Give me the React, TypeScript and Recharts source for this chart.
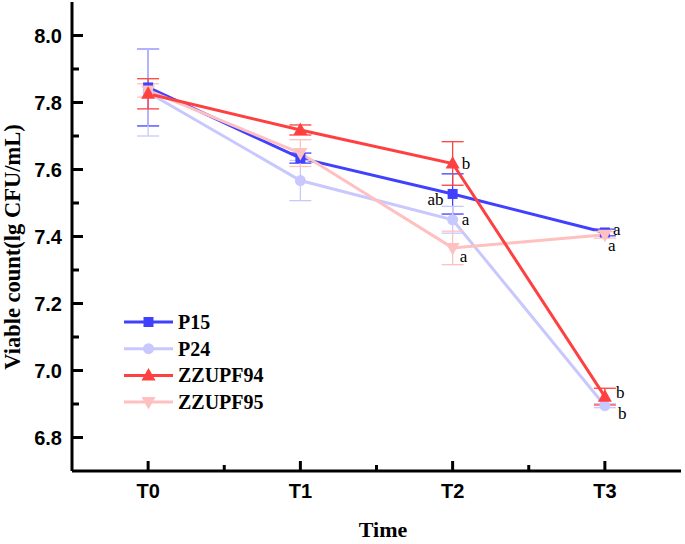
import React from 'react';
import { LineChart, Line, XAxis, YAxis, ErrorBar, Legend, LabelList } from 'recharts';

// ---- data ----
const times = ['T0', 'T1', 'T2', 'T3'];
const p15 = [7.845, 7.634, 7.527, 7.412];
const p15Err = [0.115, 0.015, 0.06, 0.01];
const p24 = [7.83, 7.567, 7.45, 6.895];
const p24Err = [0.13, 0.06, 0.04, 0.006];
const zz94 = [7.826, 7.718, 7.618, 6.922];
const zz94Err = [0.045, 0.015, 0.065, 0.025];
const zz95 = [7.836, 7.649, 7.366, 7.405];
const zz95Err = [0.02, 0.04, 0.05, 0.01];
const p15Letters = ['', '', 'ab', 'a'];
const p24Letters = ['', '', 'a', 'b'];
const zz94Letters = ['', '', 'b', 'b'];
const zz95Letters = ['', '', 'a', 'a'];
const yTicks = [6.8, 6.9, 7.0, 7.1, 7.2, 7.3, 7.4, 7.5, 7.6, 7.7, 7.8, 7.9, 8.0];
const xTicks = [0, 0.5, 1, 1.5, 2, 2.5, 3];

const table = times.map((t, i) => ({
  x: i,
  t,
  p15: p15[i], p15Err: p15Err[i], p15L: p15Letters[i],
  p24: p24[i], p24Err: p24Err[i], p24L: p24Letters[i],
  zz94: zz94[i], zz94Err: zz94Err[i], zz94L: zz94Letters[i],
  zz95: zz95[i], zz95Err: zz95Err[i], zz95L: zz95Letters[i],
}));

// ---- styles ----
const C_P15 = '#4040ff';
const C_P24 = '#c8c8ff';
const C_94 = '#ff4040';
const C_95 = '#ffc0c0';
const TICK = '#000';
const SANS = '"Liberation Sans", Arial, sans-serif';
const SERIF = '"Liberation Serif", "Times New Roman", serif';

const letterPos: Record<string, Array<[number, number, string]>> = {
  p15: [[0, 0, 'start'], [0, 0, 'start'], [-9, 6, 'end'], [8, -3, 'start']],
  p24: [[0, 0, 'start'], [0, 0, 'start'], [9, 0, 'start'], [13, 8, 'start']],
  zz94: [[0, 0, 'start'], [0, 0, 'start'], [9, 0, 'start'], [11, -4, 'start']],
  zz95: [[0, 0, 'start'], [0, 0, 'start'], [7, 9, 'start'], [3, 11, 'start']],
};

function Marker({ kind, cx, cy, color }: any) {
  if (cx == null || cy == null) return null;
  if (kind === 'square') return <rect x={cx - 5} y={cy - 5} width={10} height={10} fill={color} />;
  if (kind === 'circle') return <circle cx={cx} cy={cy} r={5.5} fill={color} />;
  if (kind === 'up')
    return <polygon points={`${cx},${cy - 7.5} ${cx - 7},${cy + 5} ${cx + 7},${cy + 5}`} fill={color} />;
  return <polygon points={`${cx},${cy + 7.5} ${cx - 7},${cy - 5} ${cx + 7},${cy - 5}`} fill={color} />;
}

const dotFor = (kind: string, color: string) => (props: any) => (
  <Marker key={`${kind}-${props.index}`} kind={kind} cx={props.cx} cy={props.cy} color={color} />
);

const letterFor = (key: string) => (props: any) => {
  const { x, y, value, index } = props;
  if (!value) return null;
  const [dx, dy, anchor] = letterPos[key][index];
  return (
    <text key={`${key}-l-${index}`} x={Number(x) + dx} y={Number(y) + dy} textAnchor={anchor as any}
      dominantBaseline="central" fontFamily={SERIF} fontSize={17} fill="#000">
      {value}
    </text>
  );
};

const renderXTick = (props: any) => {
  const x = Number(props.x);
  const y = Number(props.y);
  const v = props.payload.value;
  const major = Number.isInteger(v);
  const len = major ? 10 : 6;
  return (
    <g key={`xt-${v}`}>
      <path d={`M${x},${y} L${x},${y - len}`} stroke={TICK} strokeWidth={3} fill="none" />
      {major && (
        <text x={x} y={y + 27} textAnchor="middle" fontFamily={SANS} fontWeight="bold" fontSize={20} fill="#000">
          {times[v]}
        </text>
      )}
    </g>
  );
};

const renderTopTick = (props: any) => {
  const x = Number(props.x);
  const y = Number(props.y);
  const major = Number.isInteger(props.payload.value);
  return (
    <path key={`tt-${props.payload.value}`} d={`M${x},${y} L${x},${y + (major ? 6 : 4)}`} stroke={TICK} strokeWidth={1.5} fill="none" />
  );
};

const renderYTick = (props: any) => {
  const x = Number(props.x);
  const y = Number(props.y);
  const v = props.payload.value;
  const major = Math.round(v * 10) % 2 === 0;
  const len = major ? 11 : 7;
  return (
    <g key={`yt-${v}`}>
      <path d={`M${x},${y} L${x + len},${y}`} stroke={TICK} strokeWidth={3} fill="none" />
      {major && (
        <text x={x - 10} y={y} textAnchor="end" dominantBaseline="central" fontFamily={SANS} fontWeight="bold" fontSize={20} fill="#000">
          {v.toFixed(1)}
        </text>
      )}
    </g>
  );
};

const legendItems = [
  { name: 'P15', color: C_P15, kind: 'square' },
  { name: 'P24', color: C_P24, kind: 'circle' },
  { name: 'ZZUPF94', color: C_94, kind: 'up' },
  { name: 'ZZUPF95', color: C_95, kind: 'down' },
];

const LegendContent = () => (
  <svg width={220} height={110}>
    {legendItems.map((it, i) => {
      const cy = 14 + i * 26.7;
      return (
        <g key={it.name}>
          <line x1={6} y1={cy} x2={55} y2={cy} stroke={it.color} strokeWidth={3} />
          <Marker kind={it.kind} cx={30.5} cy={cy} color={it.color} />
          <text x={60} y={cy} dominantBaseline="central" fontFamily={SERIF} fontWeight="bold" fontSize={20} fill="#000">
            {it.name}
          </text>
        </g>
      );
    })}
  </svg>
);

export default function App() {
  return (
    <div style={{ position: 'absolute', left: 0, top: 0, background: '#fff' }}>
      <LineChart width={685} height={544} data={table} margin={{ top: 2, right: 4, left: 0, bottom: 0 }}>
        <XAxis xAxisId="b" dataKey="x" type="number" domain={[-0.5, 3.5]} ticks={xTicks} interval={0} height={73}
          tickSize={0} tickMargin={0} tickLine={false} tick={renderXTick} axisLine={{ stroke: '#000', strokeWidth: 3 }}
          label={{
            content: () => (
              <text x={383} y={537} textAnchor="middle" fontFamily={SERIF} fontWeight="bold" fontSize={22} fill="#000">
                Time
              </text>
            ),
          }}
        />
        <XAxis xAxisId="t" orientation="top" dataKey="x" type="number" domain={[-0.5, 3.5]} ticks={xTicks} interval={0}
          height={0} tickSize={0} tickMargin={0} tickLine={false} tick={renderTopTick} axisLine={{ stroke: '#000', strokeWidth: 3 }} />
        <YAxis yAxisId="l" type="number" domain={[6.7, 8.1]} ticks={yTicks} interval={0} width={72} tickSize={0} tickMargin={0}
          tickLine={false} tick={renderYTick} axisLine={{ stroke: '#000', strokeWidth: 3 }}
          label={{
            content: () => (
              <text x={12} y={247} transform="rotate(-90 12 247)" textAnchor="middle" dominantBaseline="central"
                fontFamily={SERIF} fontWeight="bold" fontSize={22.5} fill="#000">
                Viable count(lg CFU/mL)
              </text>
            ),
          }}
        />
        <YAxis yAxisId="r" orientation="right" type="number" domain={[6.7, 8.1]} width={0} tick={false} tickLine={false}
          axisLine={{ stroke: '#000', strokeWidth: 3 }} />
        <Legend layout="vertical" align="center" verticalAlign="middle" content={<LegendContent />}
          wrapperStyle={{ left: 118, top: 308, width: 220, height: 110 }} />
        <Line xAxisId="b" yAxisId="l" dataKey="p15" name="P15" stroke={C_P15} strokeWidth={3} dot={dotFor('square', C_P15)} activeDot={false} isAnimationActive={false}>
          <ErrorBar dataKey="p15Err" direction="y" width={11} stroke={C_P15} strokeWidth={1.3} isAnimationActive={false} />
          <LabelList dataKey="p15L" content={letterFor('p15')} />
        </Line>
        <Line xAxisId="b" yAxisId="l" dataKey="p24" name="P24" stroke={C_P24} strokeWidth={3} dot={dotFor('circle', C_P24)} activeDot={false} isAnimationActive={false}>
          <ErrorBar dataKey="p24Err" direction="y" width={11} stroke={C_P24} strokeWidth={1.3} isAnimationActive={false} />
          <LabelList dataKey="p24L" content={letterFor('p24')} />
        </Line>
        <Line xAxisId="b" yAxisId="l" dataKey="zz95" name="ZZUPF95" stroke={C_95} strokeWidth={3} dot={dotFor('down', C_95)} activeDot={false} isAnimationActive={false}>
          <ErrorBar dataKey="zz95Err" direction="y" width={11} stroke={C_95} strokeWidth={1.3} isAnimationActive={false} />
          <LabelList dataKey="zz95L" content={letterFor('zz95')} />
        </Line>
        <Line xAxisId="b" yAxisId="l" dataKey="zz94" name="ZZUPF94" stroke={C_94} strokeWidth={3} dot={dotFor('up', C_94)} activeDot={false} isAnimationActive={false}>
          <ErrorBar dataKey="zz94Err" direction="y" width={11} stroke={C_94} strokeWidth={1.3} isAnimationActive={false} />
          <LabelList dataKey="zz94L" content={letterFor('zz94')} />
        </Line>
      </LineChart>
    </div>
  );
}
